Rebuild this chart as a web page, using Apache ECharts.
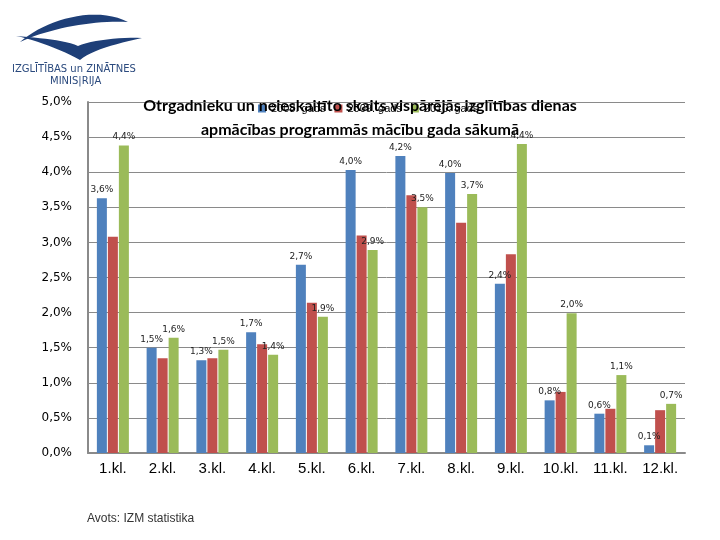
<!DOCTYPE html>
<html><head><meta charset="utf-8">
<script src="https://cdn.jsdelivr.net/npm/echarts@6/dist/echarts.min.js"></script>
<style>html,body{margin:0;padding:0;background:#fff}#c{width:720px;height:540px}</style>
</head><body><div id="c"></div>
<script>
var categories = ['1.kl.','2.kl.','3.kl.','4.kl.','5.kl.','6.kl.','7.kl.','8.kl.','9.kl.','10.kl.','11.kl.','12.kl.'];
var seriesNames = ['2008. gads','2009. gads','2010. gads'];
var values2008 = [3.63,1.50,1.32,1.72,2.68,4.03,4.23,3.99,2.41,0.75,0.56,0.11];
var values2009 = [3.08,1.35,1.35,1.55,2.14,3.10,3.67,3.28,2.83,0.87,0.63,0.61];
var values2010 = [4.38,1.64,1.47,1.40,1.94,2.89,3.50,3.69,4.40,1.99,1.11,0.70];
var yTicks = [0,0.5,1,1.5,2,2.5,3,3.5,4,4.5,5];
var titleLines = ['Otrgadnieku un neieskaitīto skaits vispārējās izglītības dienas','apmācības programmās mācību gada sākumā'];
var sourceText = 'Avots: IZM statistika';

function pct(v){ return v.toFixed(1).replace('.', ',') + '%'; }
var colors = ['#4F81BD','#C0504D','#9BBB59'];
var labelStyle = {show:true, position:'top', distance:4, fontFamily:'DejaVu Sans', fontSize:9, color:'#222',
  formatter:function(p){return pct(p.value);}};

// logo outline helper (decoration only): sample cubic bezier segments into polygon points
function bez(p0,p1,p2,p3,n){
  var pts=[];
  for(var i=0;i<=n;i++){var t=i/n,u=1-t;
    pts.push([u*u*u*p0[0]+3*u*u*t*p1[0]+3*u*t*t*p2[0]+t*t*t*p3[0],
              u*u*u*p0[1]+3*u*u*t*p1[1]+3*u*t*t*p2[1]+t*t*t*p3[1]]);}
  return pts;
}
var upperLogo = bez([20,42],[45,20],[95,5],[128,22],20).concat(bez([128,22],[95,20],[50,28],[20,42],20));
var lowerLogo = bez([16,36],[40,38],[65,40],[78,46],12).concat(bez([78,46],[92,40],[120,37],[142,38],12))
  .concat(bez([142,38],[115,44],[92,50],[80,60],12)).concat(bez([80,60],[62,50],[36,40],[16,36],12));

var chart = echarts.init(document.getElementById('c'));
chart.setOption({
  animation:false,
  color:colors,
  title:{text:titleLines.join('\n'), left:'center', top:89,
    textStyle:{fontFamily:'Lato', fontWeight:'bold', fontSize:16, lineHeight:24, color:'#000'}},
  legend:{data:seriesNames, left:253, top:98, itemWidth:8, itemHeight:8, itemGap:9, icon:'rect',
    textStyle:{fontFamily:'Liberation Sans', fontSize:11, color:'#000'}},
  grid:{left:88, right:35, top:102, bottom:87},
  xAxis:{type:'category', data:categories,
    axisLine:{lineStyle:{color:'#8a8a8a', width:2}}, axisTick:{show:false},
    axisLabel:{fontFamily:'Liberation Sans', fontSize:15, color:'#000', margin:8}},
  yAxis:{type:'value', min:0, max:5, interval:0.5,
    axisLine:{show:true, lineStyle:{color:'#8a8a8a', width:2}},
    axisTick:{show:true, inside:true, length:3, lineStyle:{color:'#8a8a8a'}},
    splitLine:{lineStyle:{color:'#8a8a8a', width:1}},
    axisLabel:{fontFamily:'DejaVu Sans', fontSize:12, color:'#000', margin:16, formatter:function(v){return pct(v);}}},
  series:[
    {name:seriesNames[0], type:'bar', data:values2008, barWidth:10, barGap:'10%', label:labelStyle},
    {name:seriesNames[1], type:'bar', data:values2009, barWidth:10, barGap:'10%'},
    {name:seriesNames[2], type:'bar', data:values2010, barWidth:10, barGap:'10%', label:labelStyle}
  ],
  graphic:[
    {type:'polygon', shape:{points:upperLogo}, style:{fill:'#1e3f78'}},
    {type:'polygon', shape:{points:lowerLogo}, style:{fill:'#1e3f78'}},
    {type:'text', left:12, top:64, style:{text:'IZGLĪTĪBAS un ZINĀTNES', fontFamily:'DejaVu Sans', fontSize:10, fill:'#2b4a7e'}},
    {type:'text', left:50, top:76, style:{text:'MINIS|RIJA', fontFamily:'DejaVu Sans', fontSize:10, fill:'#2b4a7e'}},
    {type:'text', left:87, top:513, style:{text:sourceText, fontFamily:'Liberation Sans', fontSize:12, fill:'#333'}}
  ]
});
</script></body></html>
